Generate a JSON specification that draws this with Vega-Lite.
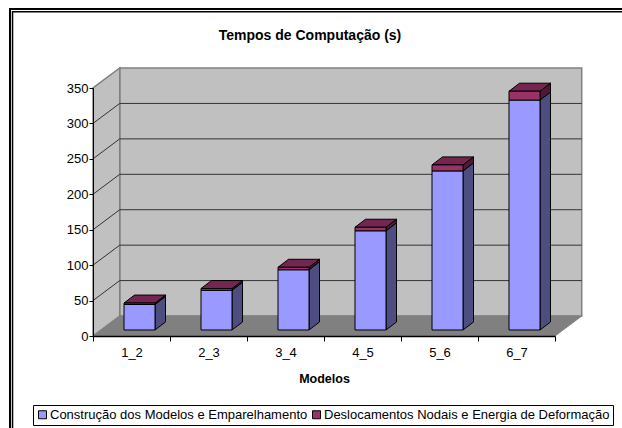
{
  "$schema": "https://vega.github.io/schema/vega-lite/v6.json",
  "width": 462,
  "height": 248,
  "autosize": {"type": "none"},
  "padding": {"left": 93, "top": 88, "right": 67, "bottom": 92},
  "background": "white",
  "config": {"axisY": {"tickCount": 8}},
  "title": {"text": "Tempos de Computação (s)", "font": "Liberation Sans", "fontSize": 14, "fontWeight": "bold", "color": "black", "anchor": "middle", "dx": -14, "offset": 0, "dy": 35},
  "datasets": {
    "tempos": [
      {"modelo": "1_2", "serie": "Construção dos Modelos e Emparelhamento", "valor": 36},
      {"modelo": "1_2", "serie": "Deslocamentos Nodais e Energia de Deformação", "valor": 2},
      {"modelo": "2_3", "serie": "Construção dos Modelos e Emparelhamento", "valor": 56},
      {"modelo": "2_3", "serie": "Deslocamentos Nodais e Energia de Deformação", "valor": 2.5},
      {"modelo": "3_4", "serie": "Construção dos Modelos e Emparelhamento", "valor": 85},
      {"modelo": "3_4", "serie": "Deslocamentos Nodais e Energia de Deformação", "valor": 3.5},
      {"modelo": "4_5", "serie": "Construção dos Modelos e Emparelhamento", "valor": 140},
      {"modelo": "4_5", "serie": "Deslocamentos Nodais e Energia de Deformação", "valor": 5},
      {"modelo": "5_6", "serie": "Construção dos Modelos e Emparelhamento", "valor": 224.5},
      {"modelo": "5_6", "serie": "Deslocamentos Nodais e Energia de Deformação", "valor": 8.5},
      {"modelo": "6_7", "serie": "Construção dos Modelos e Emparelhamento", "valor": 324.5},
      {"modelo": "6_7", "serie": "Deslocamentos Nodais e Energia de Deformação", "valor": 12.5}
    ],
    "grade": [{"v": 50}, {"v": 100}, {"v": 150}, {"v": 200}, {"v": 250}, {"v": 300}],
    "t": [{"t": 0}, {"t": 1}]
  },
  "resolve": {"scale": {"x": "independent"}},
  "layer": [
    {
      "layer": [
        {
          "data": {"values": [{"a": 1}]},
          "mark": {"type": "rect", "fill": "#C0C0C0", "stroke": "#808080", "strokeWidth": 1.5},
          "encoding": {
            "x": {"datum": 0.347, "type": "quantitative", "scale": {"domain": [0, 6], "nice": false, "zero": false}, "axis": null},
            "x2": {"datum": 6.347},
            "y": {"datum": 28.2, "type": "quantitative", "scale": {"domain": [0, 350], "nice": false}, "axis": {"title": null, "grid": false, "domainColor": "black", "tickColor": "black", "tickSize": 4, "labelColor": "black", "labelFont": "Liberation Sans", "labelFontSize": 13, "labelPadding": 1, "labelOverlap": false, "zindex": 1}},
            "y2": {"datum": 378.2}
          }
        },
        {
          "data": {"name": "t"},
          "mark": {"type": "area", "fill": "#C0C0C0", "stroke": "#808080", "strokeWidth": 1.5},
          "transform": [
            {"calculate": "datum.t*0.347", "as": "px"},
            {"calculate": "datum.t*28.2", "as": "py"},
            {"calculate": "350+datum.t*28.2", "as": "py2"}
          ],
          "encoding": {
            "x": {"field": "px", "type": "quantitative"},
            "y": {"field": "py", "type": "quantitative"},
            "y2": {"field": "py2"}
          }
        },
        {
          "data": {"name": "t"},
          "mark": {"type": "area", "orient": "horizontal", "fill": "#808080", "stroke": "#808080", "strokeWidth": 1},
          "transform": [
            {"calculate": "datum.t*0.347", "as": "px"},
            {"calculate": "6+datum.t*0.347", "as": "px2"},
            {"calculate": "datum.t*28.2", "as": "py"}
          ],
          "encoding": {
            "y": {"field": "py", "type": "quantitative"},
            "x": {"field": "px", "type": "quantitative"},
            "x2": {"field": "px2"}
          }
        },
        {
          "data": {"name": "grade"},
          "mark": {"type": "rule", "stroke": "#333333", "strokeWidth": 1},
          "transform": [{"calculate": "datum.v+28.2", "as": "vb"}],
          "encoding": {
            "x": {"datum": 0.347, "type": "quantitative"},
            "x2": {"datum": 6.347},
            "y": {"field": "vb", "type": "quantitative"}
          }
        },
        {
          "data": {"name": "grade"},
          "mark": {"type": "rule", "stroke": "#333333", "strokeWidth": 1},
          "transform": [{"calculate": "datum.v+28.2", "as": "vb"}],
          "encoding": {
            "x": {"datum": 0, "type": "quantitative"},
            "x2": {"datum": 0.347},
            "y": {"field": "v", "type": "quantitative"},
            "y2": {"field": "vb"}
          }
        },
        {
          "data": {"name": "tempos"},
          "transform": [
            {"stack": "valor", "groupby": ["modelo"], "sort": [{"field": "serie"}], "as": ["y0", "y1"]},
            {"calculate": "indexof(['1_2','2_3','3_4','4_5','5_6','6_7'],datum.modelo)+0.4026", "as": "xl"},
            {"calculate": "datum.xl+0.4026", "as": "xr"},
            {"calculate": "[0,1]", "as": "t"},
            {"flatten": ["t"]},
            {"calculate": "datum.xr+datum.t*0.1364", "as": "sx"},
            {"calculate": "datum.y0+8.47+datum.t*11.3", "as": "sy0"},
            {"calculate": "datum.y1+8.47+datum.t*11.3", "as": "sy1"},
            {"filter": "indexof(datum.serie,'Constru')===0"}
          ],
          "mark": {"type": "area", "fill": "#4D4D80", "stroke": "black", "strokeWidth": 1},
          "encoding": {
            "detail": {"field": "modelo"},
            "x": {"field": "sx", "type": "quantitative"},
            "y": {"field": "sy0", "type": "quantitative"},
            "y2": {"field": "sy1"}
          }
        },
        {
          "data": {"name": "tempos"},
          "transform": [
            {"stack": "valor", "groupby": ["modelo"], "sort": [{"field": "serie"}], "as": ["y0", "y1"]},
            {"calculate": "indexof(['1_2','2_3','3_4','4_5','5_6','6_7'],datum.modelo)+0.4026", "as": "xl"},
            {"calculate": "datum.xl+0.4026", "as": "xr"},
            {"calculate": "[0,1]", "as": "t"},
            {"flatten": ["t"]},
            {"calculate": "datum.xr+datum.t*0.1364", "as": "sx"},
            {"calculate": "datum.y0+8.47+datum.t*11.3", "as": "sy0"},
            {"calculate": "datum.y1+8.47+datum.t*11.3", "as": "sy1"},
            {"filter": "indexof(datum.serie,'Desloc')===0"}
          ],
          "mark": {"type": "area", "fill": "#4D1A33", "stroke": "black", "strokeWidth": 1},
          "encoding": {
            "detail": {"field": "modelo"},
            "x": {"field": "sx", "type": "quantitative"},
            "y": {"field": "sy0", "type": "quantitative"},
            "y2": {"field": "sy1"}
          }
        },
        {
          "data": {"name": "tempos"},
          "transform": [
            {"stack": "valor", "groupby": ["modelo"], "sort": [{"field": "serie"}], "as": ["y0", "y1"]},
            {"filter": "indexof(datum.serie,'Desloc')===0"},
            {"calculate": "indexof(['1_2','2_3','3_4','4_5','5_6','6_7'],datum.modelo)+0.4026", "as": "xl"},
            {"calculate": "datum.xl+0.4026", "as": "xr"},
            {"calculate": "[0,1]", "as": "t"},
            {"flatten": ["t"]},
            {"calculate": "datum.xl+datum.t*0.1364", "as": "tx0"},
            {"calculate": "datum.xr+datum.t*0.1364", "as": "tx1"},
            {"calculate": "datum.y1+8.47+datum.t*11.3", "as": "ty"}
          ],
          "mark": {"type": "area", "orient": "horizontal", "fill": "#732650", "stroke": "black", "strokeWidth": 1},
          "encoding": {
            "detail": {"field": "modelo"},
            "y": {"field": "ty", "type": "quantitative"},
            "x": {"field": "tx0", "type": "quantitative"},
            "x2": {"field": "tx1"}
          }
        },
        {
          "data": {"name": "tempos"},
          "transform": [
            {"stack": "valor", "groupby": ["modelo"], "sort": [{"field": "serie"}], "as": ["y0", "y1"]},
            {"calculate": "indexof(['1_2','2_3','3_4','4_5','5_6','6_7'],datum.modelo)+0.4026", "as": "xl"},
            {"calculate": "datum.xl+0.4026", "as": "xr"},
            {"calculate": "datum.y0+8.47", "as": "fy0"},
            {"calculate": "datum.y1+8.47", "as": "fy1"}
          ],
          "mark": {"type": "rect", "stroke": "black", "strokeWidth": 1},
          "encoding": {
            "x": {"field": "xl", "type": "quantitative"},
            "x2": {"field": "xr"},
            "y": {"field": "fy0", "type": "quantitative"},
            "y2": {"field": "fy1"},
            "color": {
              "field": "serie",
              "type": "nominal",
              "scale": {"domain": ["Construção dos Modelos e Emparelhamento", "Deslocamentos Nodais e Energia de Deformação"], "range": ["#9999FF", "#993366"]},
              "legend": {
                "orient": "none",
                "legendX": -60,
                "legendY": 317,
                "direction": "horizontal",
                "columns": 2,
                "title": null,
                "symbolType": "square",
                "symbolSize": 64,
                "symbolStrokeColor": "black",
                "symbolStrokeWidth": 1,
                "symbolOpacity": 1,
                "labelFont": "Liberation Sans",
                "labelFontSize": 13,
                "labelColor": "black",
                "labelLimit": 400,
                "labelOffset": 1,
                "columnPadding": 2,
                "padding": 3,
                "strokeColor": "black",
                "fillColor": "white"
              }
            }
          }
        },
        {
          "data": {"values": [{"a": 1}]},
          "mark": {"type": "rect", "fill": null, "stroke": "black", "strokeWidth": 2},
          "encoding": {
            "x": {"datum": -1.078, "type": "quantitative"},
            "x2": {"datum": 7.2},
            "y": {"datum": 461.5, "type": "quantitative"},
            "y2": {"datum": -150}
          }
        },
        {
          "data": {"values": [{"a": 1}]},
          "mark": {"type": "rect", "fill": null, "stroke": "black", "strokeWidth": 1.5},
          "encoding": {
            "x": {"datum": -1.045, "type": "quantitative"},
            "x2": {"datum": 7.2},
            "y": {"datum": 457.5, "type": "quantitative"},
            "y2": {"datum": -150}
          }
        }
      ]
    },
    {
      "data": {"name": "tempos"},
      "mark": {"type": "rect", "opacity": 0},
      "encoding": {
        "x": {
          "field": "modelo",
          "type": "nominal",
          "sort": ["1_2", "2_3", "3_4", "4_5", "5_6", "6_7"],
          "scale": {"type": "band", "paddingInner": 0, "paddingOuter": 0},
          "axis": {
            "orient": "bottom",
            "title": "Modelos",
            "titleFont": "Liberation Sans",
            "titleFontSize": 12.5,
            "titleFontWeight": "bold",
            "titleColor": "black",
            "titleX": 231,
            "titleY": 36,
            "labelAngle": 0,
            "labelColor": "black",
            "labelFont": "Liberation Sans",
            "labelFontSize": 13,
            "labelPadding": 5,
            "tickBand": "extent",
            "tickSize": 5,
            "tickColor": "black",
            "domainColor": "black",
            "domainWidth": 1.5,
            "zindex": 1
          }
        }
      }
    }
  ]
}
